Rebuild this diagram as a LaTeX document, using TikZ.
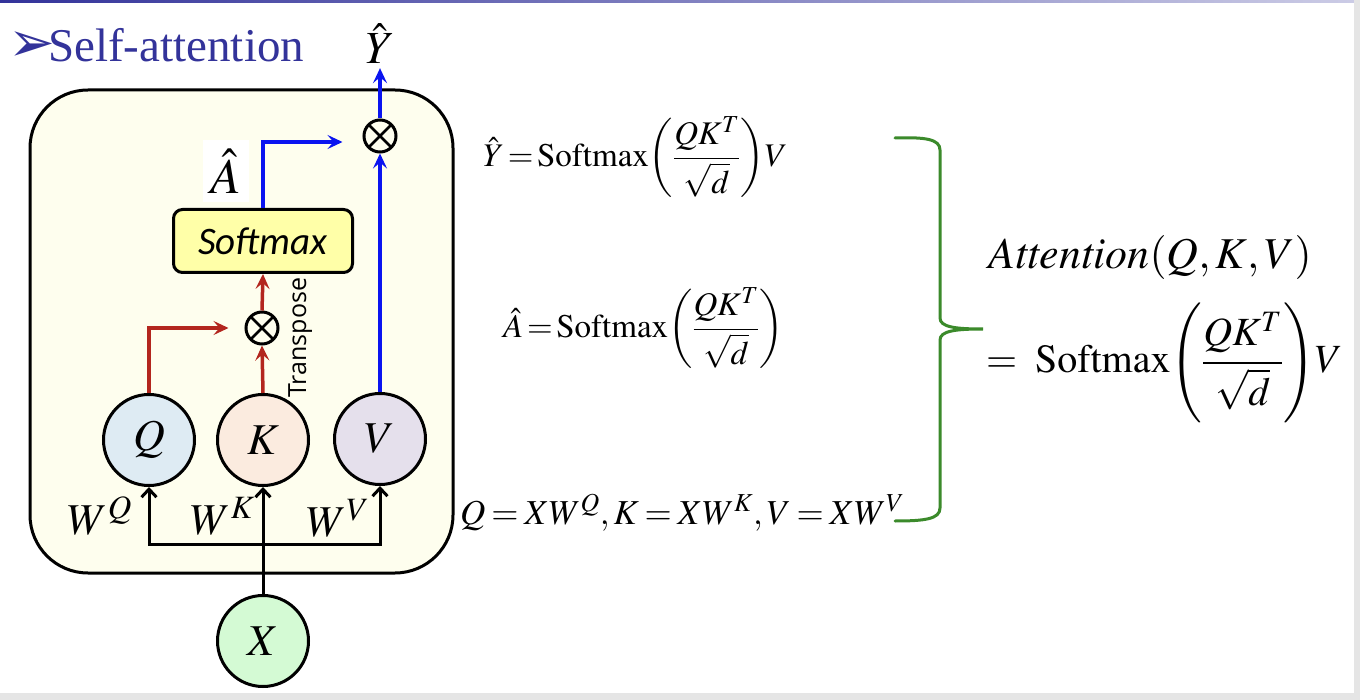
\documentclass[tikz,border=0pt]{standalone}
\usepackage{amsmath}
\usepackage{mathptmx}
\usepackage{fontspec}
\setmainfont{Liberation Serif}
\newfontfamily\symfont{DejaVu Sans}
\newfontfamily\boxfont{Carlito}
\newfontfamily\labelfont{Open Sans}
\usetikzlibrary{arrows.meta}

\definecolor{titleblue}{HTML}{33339A}
\definecolor{boxyellow}{HTML}{FEFEEE}
\definecolor{softyellow}{HTML}{FFFFA8}
\definecolor{qblue}{HTML}{DEEBF3}
\definecolor{kpeach}{HTML}{FBEBDF}
\definecolor{vlilac}{HTML}{E5E0EC}
\definecolor{xgreen}{HTML}{D4FAD4}
\definecolor{arrowred}{HTML}{B3261E}
\definecolor{arrowblue}{HTML}{0A14F0}
\definecolor{bracegreen}{HTML}{3B8A2B}

\tikzset{
  var/.style={circle, draw, line width=3pt, minimum size=91pt, inner sep=0pt,
    font=\fontsize{44}{50}\selectfont},
  mult/.style={circle, draw, line width=3pt, minimum size=32pt, inner sep=0pt,
    path picture={\draw[line width=2.5pt]
      (path picture bounding box.north west) -- (path picture bounding box.south east)
      (path picture bounding box.north east) -- (path picture bounding box.south west);}},
  softbox/.style={draw, line width=3pt, rounded corners=9pt, fill=softyellow,
    minimum width=179pt, minimum height=63pt, font=\boxfont\itshape\fontsize{39}{44}\selectfont},
  wlab/.style={inner sep=0pt, font=\fontsize{44}{50}\selectfont},
  eq/.style={inner sep=0pt},
  redline/.style={draw=arrowred, line width=3.5pt, -{Stealth[length=15pt,width=14pt,inset=6pt]}},
  blueline/.style={draw=arrowblue, line width=3.5pt, -{Stealth[length=15pt,width=14pt,inset=6pt]}},
  blackline/.style={draw=black, line width=3pt, -{Straight Barb[length=8pt,width=15pt]}}
}

\begin{document}
\begin{tikzpicture}[x=1pt, y=-1pt]
  \useasboundingbox (0,0) rectangle (1360,700);
  % page and frame
  \fill[white] (0,0) rectangle (1360,700);
  \shade[left color=titleblue, right color=titleblue!25] (0,0) rectangle (1360,3);
  \fill[gray!20] (1354,0) rectangle (1360,700);
  \fill[gray!20] (0,693) rectangle (1360,700);

  % title
  \node[anchor=base west, inner sep=0pt, text=titleblue, font=\fontsize{47}{56}\selectfont] (title) at (48,62) {Self-attention};
  \node[anchor=base west, inner sep=0pt, text=titleblue, font=\symfont\fontsize{56}{64}\selectfont] (bullet) at (8,62) {➢};

  % block
  \draw[line width=3pt, fill=boxyellow, rounded corners=58pt] (30,90) rectangle (453,573);

  \node[var, fill=qblue] (Q) at (149,440) {$Q$};
  \node[var, fill=kpeach] (K) at (263,440) {$K$};
  \node[var, fill=vlilac] (V) at (380,439) {$V$};
  \node[var, fill=xgreen] (X) at (263,641) {$X$};

  \node[softbox] (soft) at (263,241) {Softmax};
  \node[mult] (mulA) at (262,328) {};
  \node[mult] (mulY) at (380,136) {};
  \node[inner sep=0pt, font=\fontsize{46}{52}\selectfont] (Yhat) at (380,44) {$\hat{Y}$};
  \node[fill=white, inner sep=0pt, minimum width=46pt, minimum height=62pt, font=\fontsize{50}{56}\selectfont] (Ahat) at (226,171) {$\hat{A}$};
  \node[rotate=90, anchor=base west, inner sep=0pt, font=\labelfont\fontsize{25}{30}\selectfont] (trans) at (306,398) {Transpose};

  \node[wlab] (wq) at (100,516) {$W^{Q}$};
  \node[wlab] (wk) at (223,516) {$W^{K}$};
  \node[wlab] (wv) at (338,518) {$W^{V}$};

  % connectors
  \draw[redline, shorten >=16pt] (Q.north) |- (mulA.west);
  \draw[redline] (K.north) -- (mulA.south);
  \draw[redline] (mulA.north) -- (soft.south);
  \draw[blueline, shorten >=20pt] (soft.north) |- ([yshift=-6pt]mulY.west);
  \draw[blueline] (V.north) -- (mulY.south);
  \draw[blueline, shorten >=4pt] (mulY.north) -- (Yhat.south);

  \coordinate (fork) at (263,544);
  \draw[blackline] (X.north) -- (K.south);
  \draw[blackline] (fork) -| (Q.south);
  \draw[blackline] (fork) -| (V.south);

  % formulas
  \node[eq, anchor=west, font=\fontsize{33}{38}\selectfont] (eqY) at (483,157)
    {$\thickmuskip=2mu \hat{Y}=\mathrm{Softmax}\!\left(\dfrac{QK^{T}}{\sqrt{d}}\right)\!V$};
  \node[eq, anchor=west, font=\fontsize{33}{38}\selectfont] (eqA) at (503,328)
    {$\thickmuskip=2mu \hat{A}=\mathrm{Softmax}\!\left(\dfrac{QK^{T}}{\sqrt{d}}\right)$};
  \node[eq, anchor=base west, font=\fontsize{35}{42}\selectfont] (eqQ) at (460,524)
    {$\thickmuskip=3mu Q=XW^{Q},K=XW^{K},V=XW^{V}$};

  % brace
  \draw[bracegreen, line width=3pt, line cap=round]
    (895,138) .. controls (925,137) and (940,139) .. (940,150) -- (940,318)
    .. controls (940,327) and (955,329) .. (983,329)
    .. controls (955,329) and (940,331) .. (940,340) -- (940,508)
    .. controls (940,519) and (925,521) .. (895,521);

  \node[eq, anchor=west, font=\fontsize{44}{50}\selectfont] (att) at (988,258)
    {$\mathit{Attention}\!\left(Q,K,V\right)$};
  \node[eq, anchor=west, font=\fontsize{40}{46}\selectfont] (eqAtt) at (986,363)
    {$=\;\mathrm{Softmax}\!\left(\dfrac{QK^{T}}{\sqrt{d}}\right)\!V$};
\end{tikzpicture}
\end{document}
